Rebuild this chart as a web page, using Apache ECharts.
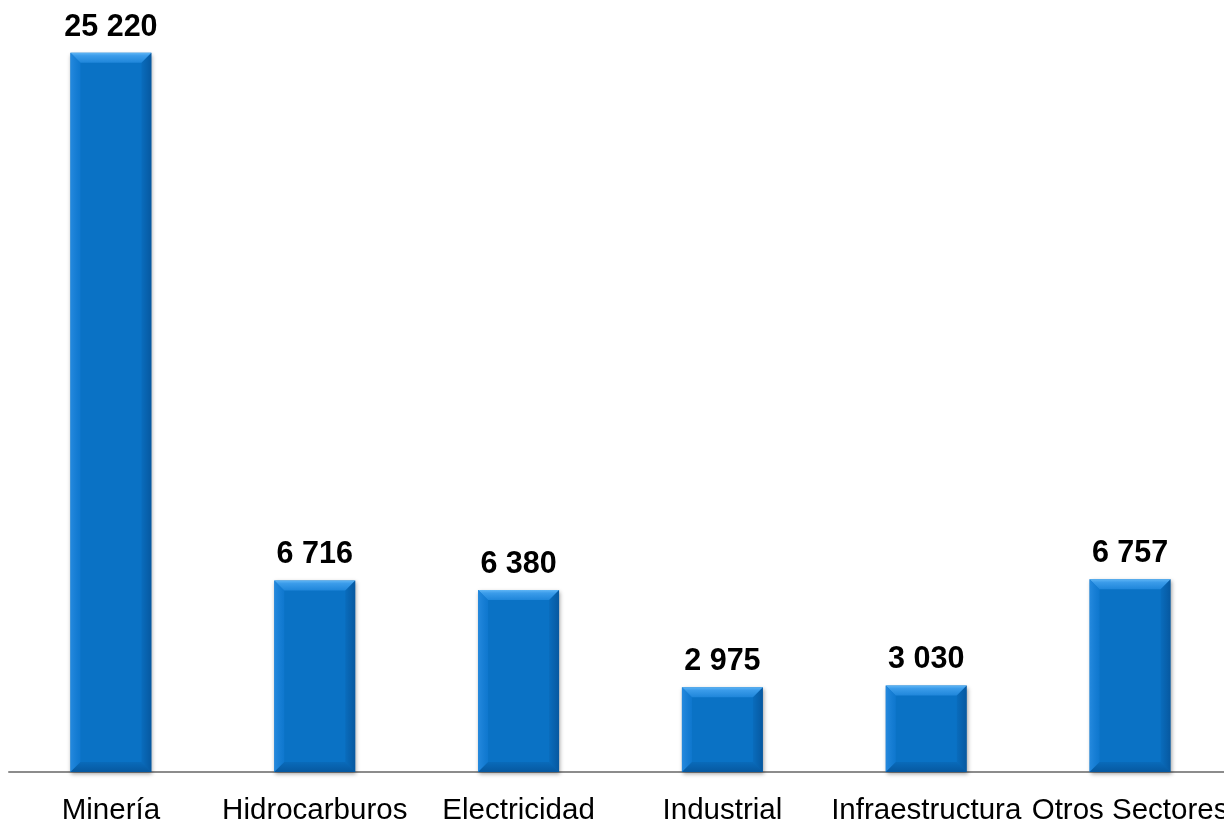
<!DOCTYPE html>
<html>
<head>
<meta charset="utf-8">
<script src="https://cdn.jsdelivr.net/npm/echarts@6/dist/echarts.min.js"></script>
<style>html,body{margin:0;padding:0;background:#fff;overflow:hidden}#c{width:1232px;height:831px}</style>
</head>
<body>
<div id="c"></div>
<script>
const categories = ['Minería', 'Hidrocarburos', 'Electricidad', 'Industrial', 'Infraestructura', 'Otros Sectores'];
const values = [25220, 6716, 6380, 2975, 3030, 6757];

function fmt(v) {
  return String(v).replace(/\B(?=(\d{3})+(?!\d))/g, ' ');
}

const BAR_W = 81;
const BEV = 10;

const chart = echarts.init(document.getElementById('c'));
chart.setOption({
  animation: false,
  grid: { left: 9, right: 0, top: 2, bottom: 59, containLabel: false },
  xAxis: {
    type: 'category',
    data: categories,
    axisLine: { show: true, lineStyle: { color: '#8c8c8c', width: 2 } },
    axisTick: { show: false },
    axisLabel: {
      color: '#000', fontSize: 29.5, fontFamily: 'Liberation Sans, Arial, sans-serif',
      margin: 24, interval: 0
    }
  },
  yAxis: {
    type: 'value', min: 0, max: 27000,
    show: false, splitLine: { show: false }
  },
  series: [{
    type: 'bar',
    data: values,
    barWidth: BAR_W,
    itemStyle: {
      color: '#0a72c5',
      shadowColor: 'rgba(0,0,0,0.35)', shadowBlur: 4, shadowOffsetX: 1, shadowOffsetY: 2
    },
    label: {
      show: true, position: 'top', distance: 10,
      color: '#000', fontSize: 30.5, fontWeight: 'bold',
      fontFamily: 'Liberation Sans, Arial, sans-serif',
      formatter: p => fmt(p.value)
    }
  }, {
    type: 'custom',
    data: values.map((v, i) => [i, v]),
    z: 5,
    silent: true,
    renderItem: function (params, api) {
      const top = api.coord([api.value(0), api.value(1)]);
      const base = api.coord([api.value(0), 0]);
      const x0 = top[0] - BAR_W / 2, x1 = top[0] + BAR_W / 2;
      const y0 = top[1], yb = base[1];
      const b = BEV;
      return {
        type: 'group',
        children: [
          { type: 'polygon', shape: { points: [[x0, y0], [x1, y0], [x1 - b, y0 + b], [x0 + b, y0 + b]] },
            style: { fill: new echarts.graphic.LinearGradient(0, 0, 0, 1, [
              { offset: 0, color: '#5fb5f5' }, { offset: 0.3, color: '#3b9cea' }, { offset: 1, color: '#1f86da' }]) } },
          { type: 'polygon', shape: { points: [[x0, y0], [x0 + b, y0 + b], [x0 + b, yb - b], [x0, yb]] },
            style: { fill: new echarts.graphic.LinearGradient(0, 0, 1, 0, [
              { offset: 0, color: 'rgba(40,140,225,0.9)' }, { offset: 1, color: 'rgba(20,125,215,0.5)' }]) } },
          { type: 'polygon', shape: { points: [[x1, y0], [x1 - b, y0 + b], [x1 - b, yb - b], [x1, yb]] },
            style: { fill: new echarts.graphic.LinearGradient(1, 0, 0, 0, [
              { offset: 0, color: 'rgba(0,40,90,0.35)' }, { offset: 1, color: 'rgba(0,40,90,0.08)' }]) } },
          { type: 'polygon', shape: { points: [[x0, yb], [x0 + b, yb - b], [x1 - b, yb - b], [x1, yb]] },
            style: { fill: new echarts.graphic.LinearGradient(0, 1, 0, 0, [
              { offset: 0, color: 'rgba(0,40,90,0.35)' }, { offset: 1, color: 'rgba(0,40,90,0.1)' }]) } }
        ]
      };
    }
  }]
});
</script>
</body>
</html>
